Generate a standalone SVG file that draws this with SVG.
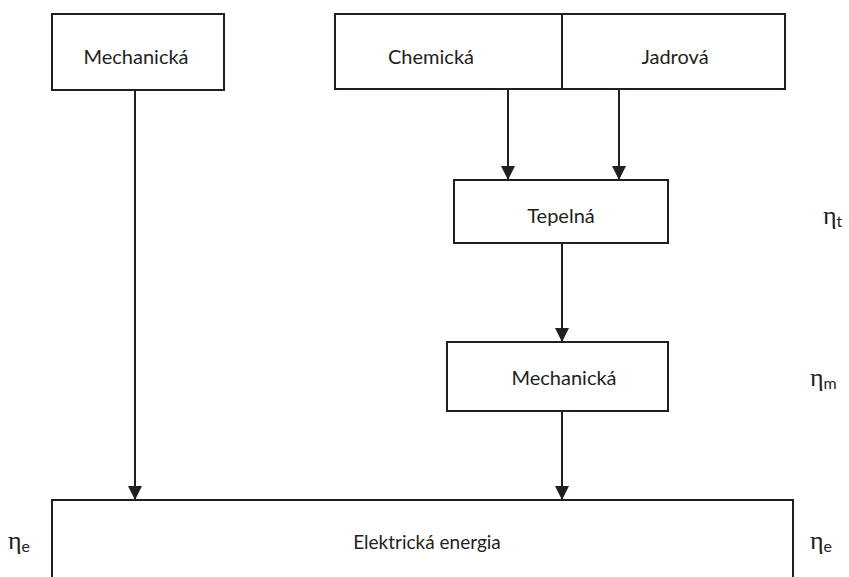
<svg xmlns="http://www.w3.org/2000/svg" width="849" height="577" viewBox="0 0 849 577">
<defs>
<style>
.box{fill:#fff;stroke:#231f20;stroke-width:2}
.lbl{font-family:Lato,"Open Sans","Liberation Sans",sans-serif;font-size:20px;fill:#231f20;text-anchor:middle}
.big{font-size:19px}
.eta{font-family:"Liberation Serif",serif;font-size:26px;fill:#231f20}
.sub{font-family:Lato,"Open Sans",sans-serif;font-size:16px}
.con{stroke:#231f20;stroke-width:2;fill:none;marker-end:url(#ah)}
</style>
<marker id="ah" markerUnits="userSpaceOnUse" markerWidth="14" markerHeight="14" viewBox="0 0 14 14" refX="14" refY="7" orient="auto">
<path d="M0,0 L14,7 L0,14 Z" fill="#231f20"/>
</marker>
</defs>
<rect width="849" height="577" fill="#fff"/>
<g id="n-mech1"><rect class="box" x="52" y="14" width="172" height="76"/><text class="lbl" x="136" y="64">Mechanická</text></g>
<g id="n-chem"><rect class="box" x="335" y="14" width="227" height="75"/><text class="lbl" x="431" y="64">Chemická</text></g>
<g id="n-jadr"><rect class="box" x="562" y="14" width="223" height="75"/><text class="lbl" x="675" y="64">Jadrová</text></g>
<g id="n-tep"><rect class="box" x="454" y="180" width="214" height="63"/><text class="lbl" x="561" y="223">Tepelná</text></g>
<g id="n-mech2"><rect class="box" x="447" y="342" width="221" height="69"/><text class="lbl" x="564" y="385">Mechanická</text></g>
<g id="n-elek"><rect class="box" x="52" y="500" width="741" height="90"/><text class="lbl big" x="427" y="549">Elektrická energia</text></g>
<g id="connectors">
<line class="con" x1="135" y1="90" x2="135" y2="500"/>
<line class="con" x1="508" y1="89" x2="508" y2="180"/>
<line class="con" x1="619" y1="89" x2="619" y2="180"/>
<line class="con" x1="562" y1="243" x2="562" y2="342"/>
<line class="con" x1="562" y1="411" x2="562" y2="500"/>
</g>
<g id="labels">
<text class="eta" x="823" y="224">η<tspan class="sub" dy="3">t</tspan></text>
<text class="eta" x="810" y="386">η<tspan class="sub" dy="3">m</tspan></text>
<text class="eta" x="810" y="549">η<tspan class="sub" dy="3">e</tspan></text>
<text class="eta" x="8" y="549">η<tspan class="sub" dy="3">e</tspan></text>
</g>
</svg>
